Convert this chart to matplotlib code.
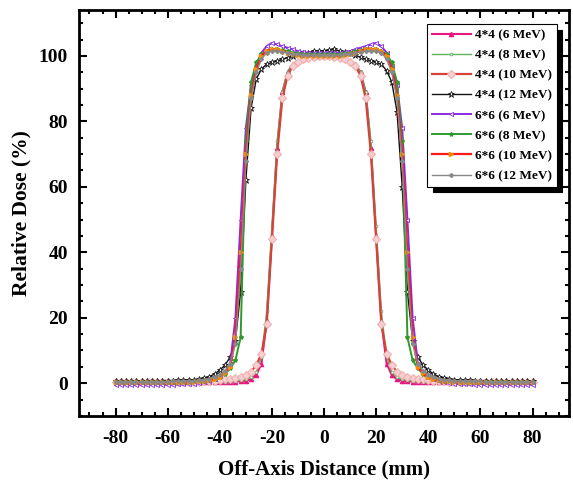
import matplotlib
matplotlib.use("Agg")
import matplotlib.pyplot as plt
from matplotlib.ticker import MultipleLocator

plt.rcParams['font.family'] = ['Liberation Serif', 'DejaVu Serif']
plt.rcParams['font.weight'] = 'bold'
plt.rcParams['axes.unicode_minus'] = False

x_mm = list(range(-80, 81, 2))

dose_4x4_6 = [0.3]*10 + [0.3]*10 + [
    0.3, 0.4, 0.4, 0.5, 0.6, 0.8, 1.2, 2.5, 6, 19,
    45, 72, 89, 95, 97.5, 98.5, 99.2, 99.6, 99.8, 100,
    100, 100, 99.8, 99.6, 99.2, 98.5, 97.5, 95, 89, 72,
    45, 19, 6, 2.5, 1.2, 0.8, 0.6, 0.5, 0.4, 0.4] + [0.3]*10 + [0.3]*10 + [0.3]

dose_4x4_8 = [0.4]*10 + [
    0.4, 0.4, 0.4, 0.4, 0.4, 0.4, 0.4, 0.4, 0.5, 0.5,
    0.5, 0.5, 0.6, 0.7, 0.9, 1.2, 1.8, 3.5, 8, 22,
    48, 74, 89, 95, 97.5, 98.6, 99.2, 99.6, 99.9, 100,
    100.1, 100, 99.9, 99.6, 99.2, 98.6, 97.5, 95, 89, 74,
    48, 22, 8, 3.5, 1.8, 1.2, 0.9, 0.7, 0.6, 0.5,
    0.5, 0.5, 0.4, 0.4, 0.4, 0.4, 0.4, 0.4, 0.4, 0.4] + [0.4]*10 + [0.4]

dose_4x4_10 = [0.3]*10 + [
    0.3, 0.3, 0.3, 0.4, 0.4, 0.5, 0.5, 0.6, 0.7, 0.8,
    1.0, 1.2, 1.4, 1.7, 2.0, 2.6, 3.5, 5.5, 9, 18,
    44, 70, 87, 94, 97, 98.3, 99, 99.5, 99.8, 100,
    100, 100, 99.8, 99.5, 99, 98.3, 97, 94, 87, 70,
    44, 18, 9, 5.5, 3.5, 2.6, 2.0, 1.7, 1.4, 1.2,
    1.0, 0.8, 0.7, 0.6, 0.5, 0.5, 0.4, 0.4, 0.3, 0.3] + [0.3]*10 + [0.3]

dose_4x4_12 = [
    0.6, 0.6, 0.7, 0.6, 0.7, 0.7, 0.7, 0.8, 0.7, 0.8,
    0.8, 0.8, 0.9, 0.9, 1.0, 1.0, 1.2, 1.5, 2.0, 2.8,
    4.0, 5.5, 8, 13, 28, 62, 84, 93, 96, 97.5,
    98, 98.5, 99, 99.5, 100, 100.5, 101, 101, 101.5, 101.5,
    101.5, 101.8, 102, 101.5, 101.2, 100.8, 100.2, 99.6, 99, 98.5,
    98, 97.5, 95.5, 92, 83, 60, 28, 13, 8, 5.5,
    4.0, 2.8, 2.0, 1.5, 1.2, 1.0, 1.0, 0.9, 0.9, 0.8,
    0.8, 0.8, 0.7, 0.7, 0.7, 0.7, 0.6, 0.7, 0.6, 0.6,
    0.6]

dose_6x6_6 = [-0.5]*10 + [
    -0.5, -0.5, -0.4, -0.4, -0.3, -0.2, 0, 0.3, 0.6, 1.2,
    2.2, 3.5, 6, 20, 50, 78, 91, 97, 101, 103,
    104, 103.5, 103, 102.5, 102, 101.5, 101.2, 101, 101, 101,
    101, 101, 101, 101, 101.2, 101.5, 102, 102.5, 103, 103.5,
    104, 103, 101, 97, 91, 78, 50, 20, 6, 3.5,
    2.2, 1.2, 0.6, 0.3, 0, -0.2, -0.3, -0.4, -0.4, -0.5] + [-0.5]*10 + [-0.5]

dose_6x6_8 = [0.4]*10 + [
    0.4, 0.4, 0.5, 0.5, 0.5, 0.6, 0.7, 0.8, 1.0, 1.3,
    1.8, 2.8, 4.5, 7, 14, 74, 92, 98, 100.5, 101.5,
    102, 102, 101.8, 101.5, 101, 100.8, 100.6, 100.5, 100.5, 100.5,
    100.5, 100.5, 100.5, 100.6, 100.8, 101, 101.5, 101.8, 102, 102,
    102, 101.5, 100.5, 98, 92, 74, 14, 7, 4.5, 2.8,
    1.8, 1.3, 1.0, 0.8, 0.7, 0.6, 0.5, 0.5, 0.5, 0.4] + [0.4]*10 + [0.4]

dose_6x6_10 = [0.3]*10 + [
    0.3, 0.3, 0.4, 0.4, 0.4, 0.5, 0.6, 0.7, 0.9, 1.2,
    1.8, 3, 5, 14, 40, 70, 88, 96, 100, 101.5,
    102, 102, 101.5, 101, 100.5, 100.2, 100, 100, 100, 100,
    100, 100, 100, 100, 100.2, 100.5, 101, 101.5, 102, 102,
    102, 101.5, 100, 96, 88, 70, 40, 14, 5, 3,
    1.8, 1.2, 0.9, 0.7, 0.6, 0.5, 0.4, 0.4, 0.4, 0.3] + [0.3]*10 + [0.3]

dose_6x6_12 = [0.5]*10 + [
    0.5, 0.6, 0.6, 0.7, 0.7, 0.8, 0.9, 1.1, 1.4, 1.9,
    2.6, 3.8, 6, 12, 35, 68, 87, 95, 99, 101,
    101.5, 101.5, 101.2, 101, 100.7, 100.5, 100.3, 100.2, 100.2, 100.2,
    100.2, 100.2, 100.2, 100.3, 100.5, 100.7, 101, 101.2, 101.5, 101.5,
    101.5, 101, 99, 95, 87, 68, 35, 12, 6, 3.8,
    2.6, 1.9, 1.4, 1.1, 0.9, 0.8, 0.7, 0.7, 0.6, 0.6,
    0.6, 0.5, 0.5, 0.5, 0.5, 0.5, 0.5, 0.5, 0.5, 0.5] + [0.5]

labels = ["4*4 (6 MeV)", "4*4 (8 MeV)", "4*4 (10 MeV)", "4*4 (12 MeV)",
          "6*6 (6 MeV)", "6*6 (8 MeV)", "6*6 (10 MeV)", "6*6 (12 MeV)"]
series = [dose_4x4_6, dose_4x4_8, dose_4x4_10, dose_4x4_12,
          dose_6x6_6, dose_6x6_8, dose_6x6_10, dose_6x6_12]

styles = [
    dict(color='#e8177f', marker='^', ms=3, mfc='#e8177f', mec='#e8177f', lw=1.5),
    dict(color='#5fb35f', marker='o', ms=2, mfc='white', mec='#5fb35f', mew=0.6, lw=1.0),
    dict(color='#d8403a', marker='D', ms=4, mfc='#f6d0d0', mec='#f0b0b0', mew=0.8, lw=1.6),
    dict(color='#111111', marker='*', ms=4.5, mfc='white', mec='#111111', mew=0.6, lw=1.0),
    dict(color='#8a2be2', marker='<', ms=3, mfc='white', mec='#8a2be2', mew=0.6, lw=1.4),
    dict(color='#2e9a2e', marker='*', ms=3, mfc='#2e9a2e', mec='#2e9a2e', lw=1.4),
    dict(color='#ff1a1a', marker='>', ms=3, mfc='#ff8c00', mec='#ff8c00', lw=1.6),
    dict(color='#888888', marker='D', ms=2, mfc='#888888', mec='#888888', lw=1.0),
]

fig = plt.figure(figsize=(5.73, 4.83), dpi=100)
ax = fig.add_axes([0.138, 0.139, 0.855, 0.840])

for y, lab, st in zip(series, labels, styles):
    ax.plot(x_mm, y, label=lab, **st)

ax.set_xlim(-94, 94)
ax.set_ylim(-10, 114)
ax.xaxis.set_major_locator(MultipleLocator(20))
ax.xaxis.set_minor_locator(MultipleLocator(5))
ax.yaxis.set_major_locator(MultipleLocator(20))
ax.yaxis.set_minor_locator(MultipleLocator(5))
ax.set_xticks([-80, -60, -40, -20, 0, 20, 40, 60, 80])
ax.tick_params(which='both', direction='in', top=True, right=True, width=1.5)
ax.tick_params(which='major', length=6, labelsize=14)
ax.tick_params(axis='x', which='major', pad=10)
ax.tick_params(axis='y', which='major', pad=8)
ax.tick_params(which='minor', length=3)
for s in ax.spines.values():
    s.set_linewidth(2)
for t in ax.get_xticklabels() + ax.get_yticklabels():
    t.set_fontweight('bold')

ax.set_xlabel('Off-Axis Distance (mm)', fontsize=15, fontweight='bold', labelpad=9)
ax.set_ylabel('Relative Dose (%)', fontsize=15.5, fontweight='bold', labelpad=5)

leg = ax.legend(loc='upper right', bbox_to_anchor=(0.975, 0.965),
                prop={'weight': 'bold', 'size': 9.5}, frameon=True, fancybox=False,
                shadow={'color': 'black', 'alpha': 1, 'ox': 4, 'oy': -4},
                handlelength=3.0, handletextpad=0.3, labelspacing=0.6,
                borderpad=0.35, borderaxespad=0, framealpha=1)
leg.get_frame().set_edgecolor('black')
leg.get_frame().set_linewidth(0.8)

fig.savefig('out.png', dpi=100)
